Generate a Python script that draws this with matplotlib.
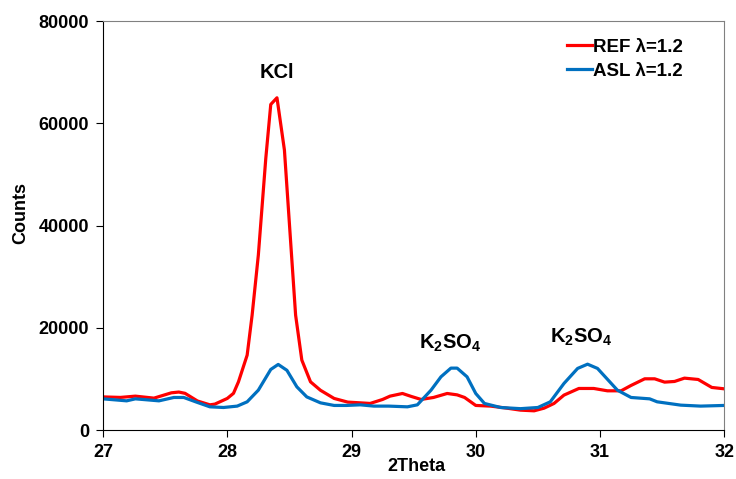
import matplotlib
matplotlib.use('Agg')
import matplotlib.pyplot as plt

plt.rcParams['font.family'] = ['Liberation Sans', 'DejaVu Sans']
plt.rcParams['font.weight'] = 'bold'
plt.rcParams['mathtext.fontset'] = 'custom'
plt.rcParams['mathtext.rm'] = 'Liberation Sans:bold'
plt.rcParams['mathtext.default'] = 'rm'

# REF lambda=1.2
ref_theta = [27.00, 27.14, 27.26, 27.41, 27.55, 27.61, 27.66, 27.76, 27.86, 27.90,
             28.00, 28.05, 28.09, 28.16, 28.20, 28.25, 28.31, 28.35, 28.40, 28.46,
             28.51, 28.55, 28.60, 28.67, 28.75, 28.86, 28.97, 29.07, 29.15, 29.25,
             29.31, 29.41, 29.48, 29.56, 29.66, 29.77, 29.85, 29.91, 30.00, 30.12,
             30.25, 30.36, 30.47, 30.55, 30.63, 30.71, 30.83, 30.95, 31.06, 31.17,
             31.25, 31.36, 31.44, 31.52, 31.60, 31.68, 31.79, 31.90, 32.00]
ref_counts = [6500, 6400, 6650, 6260, 7300, 7450, 7200, 5700, 4950, 5090,
              6200, 7200, 9450, 14670, 22500, 34230, 53150, 63700, 65000, 54770,
              36830, 22500, 13700, 9450, 7800, 6200, 5480, 5340, 5220, 6000,
              6650, 7170, 6600, 6000, 6390, 7170, 6900, 6390, 4830, 4700,
              4300, 3910, 3780, 4300, 5220, 6850, 8150, 8150, 7690, 7690,
              8740, 10040, 10040, 9390, 9520, 10170, 9910, 8350, 8080]

# ASL lambda=1.2
asl_theta = [27.00, 27.19, 27.26, 27.45, 27.57, 27.65, 27.75, 27.86, 27.97, 28.08,
             28.16, 28.25, 28.35, 28.41, 28.48, 28.56, 28.64, 28.75, 28.86, 28.96,
             29.07, 29.18, 29.30, 29.45, 29.53, 29.64, 29.72, 29.80, 29.85, 29.93,
             30.00, 30.07, 30.20, 30.36, 30.50, 30.60, 30.71, 30.82, 30.90, 30.98,
             31.14, 31.25, 31.40, 31.46, 31.65, 31.81, 32.00]
asl_counts = [6120, 5730, 6120, 5730, 6390, 6390, 5500, 4560, 4430, 4700,
              5540, 7820, 11870, 12850, 11700, 8470, 6500, 5340, 4830, 4830,
              4950, 4700, 4700, 4560, 4950, 7820, 10430, 12130, 12130, 10430,
              7170, 5220, 4430, 4200, 4430, 5540, 9130, 12070, 12900, 12070,
              7820, 6390, 6120, 5540, 4890, 4700, 4830]

peak_labels = ['KCl', 'K$_2$SO$_4$', 'K$_2$SO$_4$']
peak_pos = [(28.40, 70000), (29.79, 17000), (30.85, 18200)]

fig = plt.figure(figsize=(7.36, 4.79), dpi=100)
ax = fig.add_axes([0.140, 0.102, 0.844, 0.854])

ax.plot(ref_theta, ref_counts, color='#FF0000', lw=2.3, label='REF λ=1.2')
ax.plot(asl_theta, asl_counts, color='#0070C0', lw=2.3, label='ASL λ=1.2')

for lab, (x, y) in zip(peak_labels, peak_pos):
    ax.text(x, y, lab, fontsize=14.5, fontweight='bold', ha='center', va='center')

ax.set_xlim(27, 32)
ax.set_ylim(0, 80000)
ax.set_xticks([27, 28, 29, 30, 31, 32])
ax.set_yticks([0, 20000, 40000, 60000, 80000])
ax.tick_params(direction='out', length=5, width=0.8, labelsize=13, pad=5)
ax.tick_params(top=False, right=False)
ax.set_xlabel('2Theta', fontsize=13, fontweight='bold')
ax.set_ylabel('Counts', fontsize=13, fontweight='bold')
ax.xaxis.set_label_coords(0.504, -0.068)
ax.yaxis.set_label_coords(-0.118, 0.53)
for s in ['top', 'right']:
    ax.spines[s].set_color('#808080')
    ax.spines[s].set_linewidth(0.8)

ax.legend(loc='upper left', bbox_to_anchor=(0.72, 0.998), frameon=False,
          fontsize=13.5, handlelength=1.3, handletextpad=0.1, labelspacing=0.35)

plt.savefig('out.png', dpi=100)
